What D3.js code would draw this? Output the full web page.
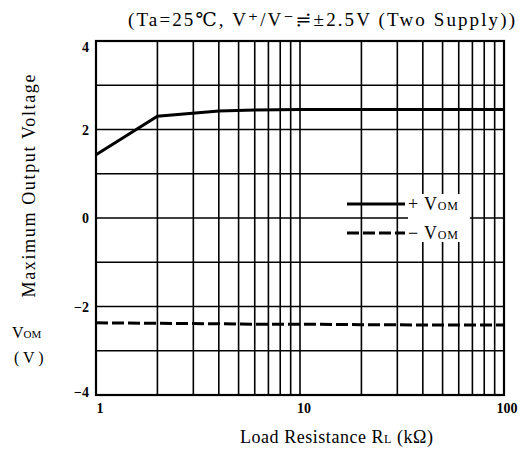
<!DOCTYPE html>
<html>
<head>
<meta charset="utf-8">
<script src="https://cdn.jsdelivr.net/npm/d3@7"></script>
<style>
  body { margin: 0; background: #fff; }
  svg { font-family: "Liberation Serif", "DejaVu Serif", serif; }
</style>
</head>
<body>
<svg id="chart" width="526" height="455"></svg>
<script>
// data
const loadRes = [1, 2, 4, 6, 10, 20, 50, 100];
const vomPos = [1.43, 2.3, 2.42, 2.44, 2.45, 2.45, 2.45, 2.45];
const vomNeg = [-2.37, -2.38, -2.39, -2.4, -2.4, -2.41, -2.42, -2.42];
const yTicks = [-4, -2, 0, 2, 4];
const xTicks = [1, 10, 100];
const yGrid = [-3, -2, -1, 0, 1, 2, 3];

const svg = d3.select("#chart");
const m = { left: 96, right: 504, top: 41, bottom: 395 };

const x = d3.scaleLog().domain([1, 100]).range([m.left, m.right]);
const y = d3.scaleLinear().domain([-4, 4]).range([m.bottom, m.top]);

// vertical grid: 2..9, 10..90
const xGrid = [];
for (let d = 1; d <= 10; d *= 10) {
  for (let k = 2; k <= 9; k++) xGrid.push(k * d);
  if (d === 1) xGrid.push(10);
}

const grid = svg.append("g").attr("stroke", "#000");
grid.selectAll("line.v").data(xGrid).enter().append("line")
  .attr("x1", d => x(d)).attr("x2", d => x(d))
  .attr("y1", m.top).attr("y2", m.bottom)
  .attr("stroke-width", 1.6);
grid.selectAll("line.h").data(yGrid).enter().append("line")
  .attr("x1", m.left).attr("x2", m.right)
  .attr("y1", d => y(d)).attr("y2", d => y(d))
  .attr("stroke-width", 1.3);

// frame
svg.append("rect")
  .attr("x", m.left).attr("y", m.top)
  .attr("width", m.right - m.left).attr("height", m.bottom - m.top)
  .attr("fill", "none").attr("stroke", "#000").attr("stroke-width", 2.2);

// curves
const line = d3.line().x(d => x(d[0])).y(d => y(d[1]));
svg.append("path")
  .datum(loadRes.map((r, i) => [r, vomPos[i]]))
  .attr("d", line).attr("fill", "none")
  .attr("stroke", "#000").attr("stroke-width", 3);
svg.append("path")
  .datum(loadRes.map((r, i) => [r, vomNeg[i]]))
  .attr("d", line).attr("fill", "none")
  .attr("stroke", "#000").attr("stroke-width", 3)
  .attr("stroke-dasharray", "12,4");

// legend
const leg = svg.append("g");
leg.append("rect").attr("x", 408).attr("y", 194).attr("width", 62).attr("height", 48).attr("fill", "#fff");
leg.append("line").attr("x1", 347).attr("x2", 405).attr("y1", 204).attr("y2", 204)
  .attr("stroke", "#000").attr("stroke-width", 3);
leg.append("line").attr("x1", 347).attr("x2", 405).attr("y1", 233).attr("y2", 233)
  .attr("stroke", "#000").attr("stroke-width", 3).attr("stroke-dasharray", "12,4");
const legText = [["+", 210], ["\u2212", 239]];
legText.forEach(([s, yy]) => {
  const t = leg.append("text").attr("x", 408).attr("y", yy).attr("font-size", 18)
    .attr("textLength", 50).attr("lengthAdjust", "spacing");
  t.append("tspan").text(s + " V");
  t.append("tspan").attr("font-size", 12).text("OM");
});

// tick labels
svg.append("g").selectAll("text").data(yTicks).enter().append("text")
  .attr("x", 89).attr("y", d => y(d) + 5 + (d === 4 ? 6 : d === -4 ? -3 : 0))
  .attr("text-anchor", "end").attr("font-size", 14).attr("font-weight", "bold")
  .text(d => d < 0 ? "\u2212" + Math.abs(d) : d);
svg.append("g").selectAll("text").data(xTicks).enter().append("text")
  .attr("x", d => x(d) + (d === 100 ? 3 : 4)).attr("y", 413)
  .attr("text-anchor", "middle").attr("font-size", 14).attr("font-weight", "bold")
  .text(d => d);

// titles
svg.append("text").attr("x", 128).attr("y", 26)
  .attr("font-size", 19).attr("textLength", 387).attr("lengthAdjust", "spacing")
  .text("(Ta=25\u2103, V\u207A/V\u207B\u2253\u00B12.5V (Two Supply))");
svg.append("text").attr("transform", "translate(35,186) rotate(-90)")
  .attr("text-anchor", "middle").attr("font-size", 18)
  .attr("textLength", 223).attr("lengthAdjust", "spacing")
  .text("Maximum Output Voltage");
const vLab = svg.append("text").attr("x", 12).attr("y", 338).attr("font-size", 16);
vLab.append("tspan").text("V");
vLab.append("tspan").attr("font-size", 11).text("OM");
svg.append("text").attr("x", 14).attr("y", 363).attr("font-size", 16).text("( V )");
const xLab = svg.append("text").attr("x", 240).attr("y", 443).attr("font-size", 18)
  .attr("textLength", 193).attr("lengthAdjust", "spacing");
xLab.append("tspan").text("Load Resistance  R");
xLab.append("tspan").attr("font-size", 12).text("L");
xLab.append("tspan").text("  (k\u03A9)");
</script>
</body>
</html>
